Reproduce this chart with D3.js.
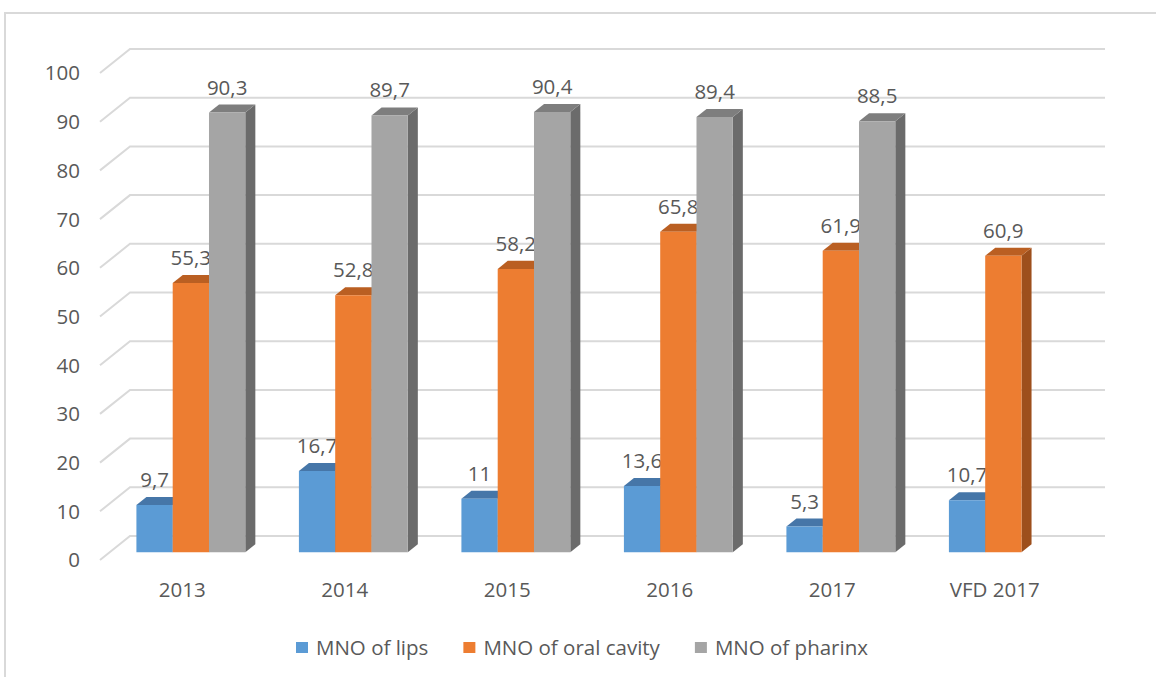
<!DOCTYPE html>
<html>
<head>
<meta charset="utf-8">
<script src="https://cdn.jsdelivr.net/npm/d3@7"></script>
<style>
  body { margin: 0; background: #fff; }
  text { font-family: "Open Sans", sans-serif; fill: #595959; }
</style>
</head>
<body>
<script>
// data
const categories = ["2013", "2014", "2015", "2016", "2017", "VFD 2017"];
const seriesNames = ["MNO of lips", "MNO of oral cavity", "MNO of pharinx"];
const lips = [9.7, 16.7, 11, 13.6, 5.3, 10.7];
const oral = [55.3, 52.8, 58.2, 65.8, 61.9, 60.9];
const pharinx = [90.3, 89.7, 90.4, 89.4, 88.5, null];
const yTicks = [0, 10, 20, 30, 40, 50, 60, 70, 80, 90, 100];

const seriesValues = [lips, oral, pharinx];
const colors = [
  { front: "#5B9BD5", top: "#4676A8", side: "#3D6791" },
  { front: "#ED7D31", top: "#BA5F22", side: "#9D4F1C" },
  { front: "#A5A5A5", top: "#7E7E7E", side: "#6B6B6B" }
];

const W = 1156, H = 677;
const fs = "20.5px";
const svg = d3.select("body").append("svg")
  .attr("width", W)
  .attr("height", H);

// outer chart border (only top and left visible)
svg.append("path")
  .attr("d", "M5,690 L5,13 L1170,13")
  .attr("fill", "none")
  .attr("stroke", "#D9D9D9")
  .attr("stroke-width", 2);

// back wall extents + floor depth
const x0 = 130, x1 = 1105;
const depthX = 30, depthY = 24;
const proj = (x, y, f) => [x - depthX * f, y + depthY * f];

const x = d3.scaleBand().domain(categories).range([x0, x1]);
const inner = d3.scaleBand().domain(d3.range(3))
  .range([-x.bandwidth() * 0.335, x.bandwidth() * 0.335]);
const y = d3.scaleLinear().domain([0, 100]).range([536, 49]);

// gridlines: back wall + left side wall diagonal
const grid = svg.append("g");
yTicks.forEach(t => {
  const yb = y(t);
  const f = proj(x0, yb, 1);
  grid.append("path")
    .attr("d", `M${f[0]},${f[1]} L${x0},${yb} L${x1},${yb}`)
    .attr("fill", "none")
    .attr("stroke", "#D9D9D9")
    .attr("stroke-width", 2);
  grid.append("text")
    .attr("x", 80)
    .attr("y", f[1] + 2)
    .attr("text-anchor", "end")
    .attr("dominant-baseline", "middle")
    .style("font-size", fs)
    .text(t);
});

// bars
const fFront = 0.68, fBack = 0.345;
const bars = svg.append("g");
categories.forEach((c, i) => {
  const cx = x(c) + x.bandwidth() / 2;
  seriesValues.forEach((vals, s) => {
    const v = vals[i];
    if (v == null) return;
    const xl = cx + inner(s), xr = xl + inner.bandwidth();
    const yt = y(v), yb = y(0);
    const A = proj(xl, yt, fFront), B = proj(xr, yt, fFront);
    const C = proj(xr, yb, fFront), D = proj(xl, yb, fFront);
    const Ab = proj(xl, yt, fBack), Bb = proj(xr, yt, fBack);
    const Cb = proj(xr, yb, fBack);
    const col = colors[s];
    const poly = pts => "M" + pts.map(p => p.join(",")).join("L") + "Z";
    bars.append("path").attr("d", poly([B, Bb, Cb, C])).attr("fill", col.side);
    bars.append("path").attr("d", poly([A, Ab, Bb, B])).attr("fill", col.top);
    bars.append("path").attr("d", poly([A, B, C, D])).attr("fill", col.front);
    bars.append("text")
      .attr("x", (A[0] + B[0]) / 2)
      .attr("y", A[1] - 18)
      .attr("text-anchor", "middle")
      .style("font-size", fs)
      .text(String(v).replace(".", ","));
  });
  // category label at the floor front
  const lp = proj(cx, y(0), 1);
  svg.append("text")
    .attr("x", lp[0] + 1)
    .attr("y", 597)
    .attr("text-anchor", "middle")
    .style("font-size", fs)
    .text(c);
});

// legend
const legend = svg.append("g");
let lx = 296;
seriesNames.forEach((n, s) => {
  legend.append("rect")
    .attr("x", lx).attr("y", 642)
    .attr("width", 12).attr("height", 11)
    .attr("fill", colors[s].front);
  const t = legend.append("text")
    .attr("x", lx + 20)
    .attr("y", 655)
    .style("font-size", fs)
    .text(n);
  lx += 20 + t.node().getComputedTextLength() + 35;
});
</script>
</body>
</html>
